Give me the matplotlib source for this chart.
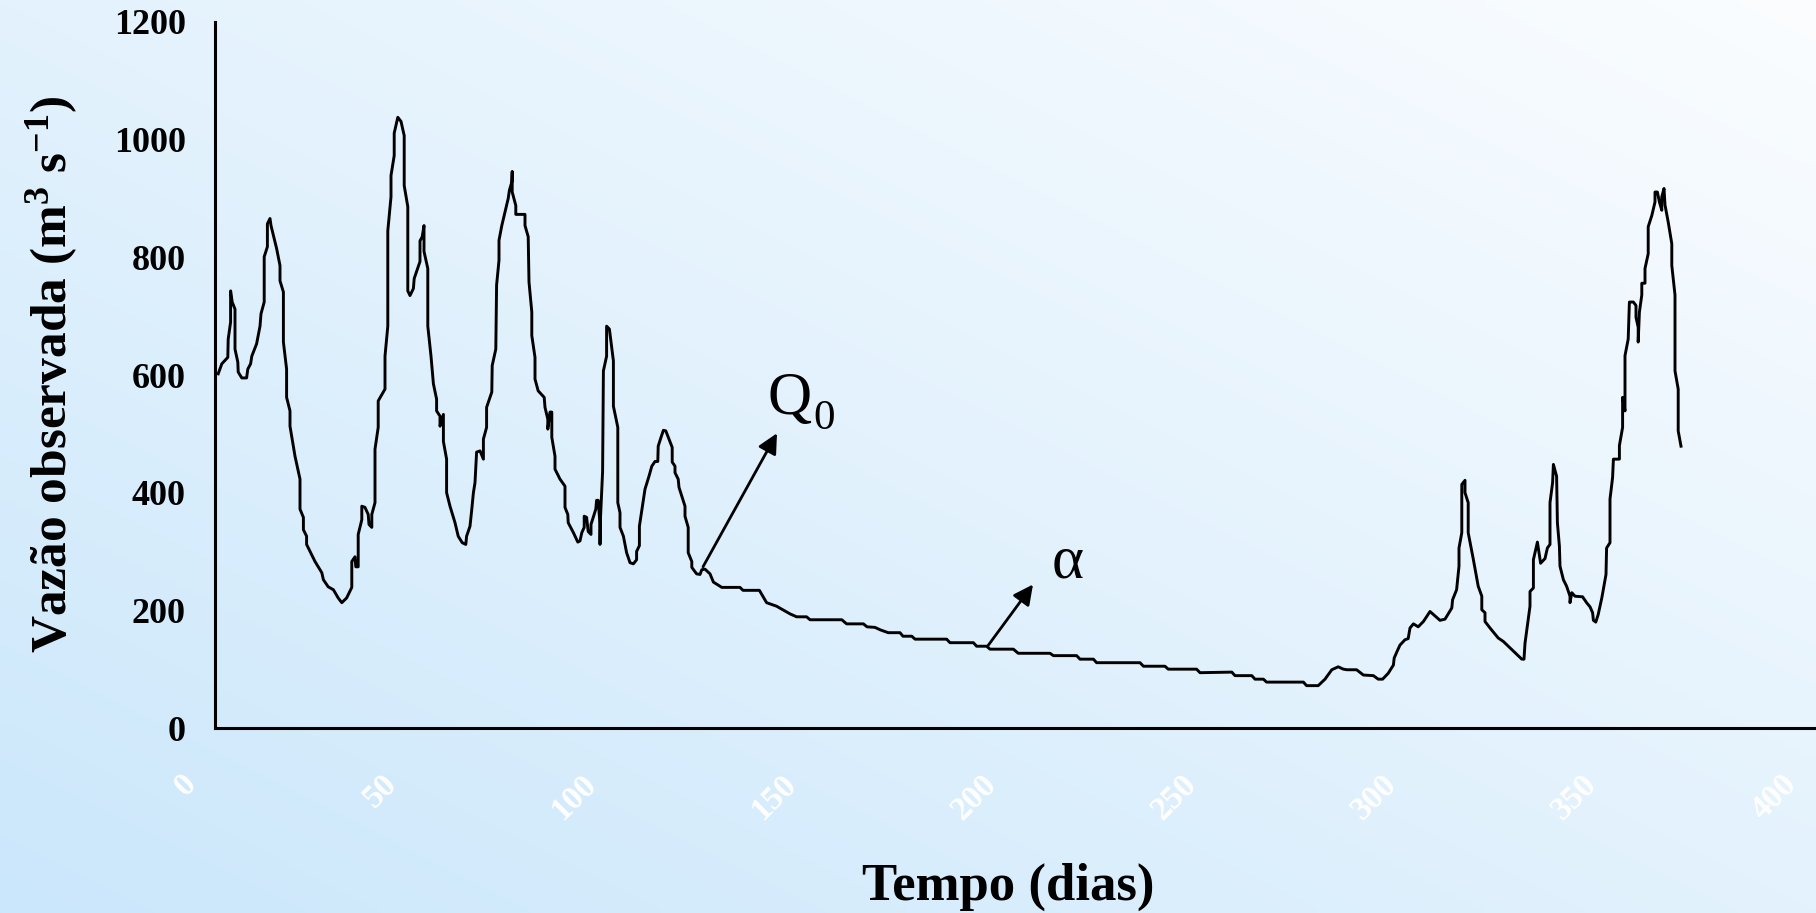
import numpy as np
import matplotlib
matplotlib.use("Agg")
import matplotlib.pyplot as plt
from matplotlib.transforms import ScaledTranslation

plt.rcParams['font.family'] = ['Liberation Serif', 'DejaVu Serif']
plt.rcParams['mathtext.fontset'] = 'custom'
plt.rcParams['mathtext.rm'] = 'Liberation Serif'
plt.rcParams['mathtext.bf'] = 'Liberation Serif:bold'
plt.rcParams['mathtext.it'] = 'Liberation Serif:italic'

# dias e vazões (vértices da linha)
dia = [0.8, 1.7, 3.2, 3.3, 3.9, 3.9, 4.3, 5.0, 5.0, 5.7, 5.8, 6.7, 7.9, 8.2, 8.9, 9.2,
       10.4, 11.25, 11.5, 12.3, 12.3, 13.1, 13.1, 13.75, 14.0, 15.4, 16.25, 16.25, 17.1,
       17.1, 17.9, 17.9, 18.75, 18.75, 20.0, 21.25, 21.25, 22.1, 22.1, 22.9, 22.9, 25.0,
       26.7, 27.1, 28.3, 29.6, 30.8, 31.7, 32.9, 34.2, 34.2, 35.0, 35.2, 35.8, 35.8, 36.7,
       36.7, 37.5, 38.3, 38.5, 39.2, 39.2, 40.0, 40.0, 40.8, 40.8, 42.5, 42.5, 43.2, 43.2,
       44.0, 44.0, 44.8, 44.8, 45.7, 46.5, 47.3, 47.3, 48.2, 48.2, 48.75, 49.6, 49.8,
       51.25, 51.25, 51.8, 52.25, 52.25, 53.2, 53.2, 54.0, 54.6, 55.4, 55.4, 56.25, 56.25,
       57.1, 57.1, 57.9, 57.9, 58.75, 60.0, 60.8, 61.8, 62.7, 62.9, 63.75, 64.2, 64.6, 65.0,
       65.4, 66.25, 67.1, 67.1, 67.9, 67.9, 69.2, 69.3, 70.2, 70.4, 71.0, 71.0, 71.7, 73.3,
       73.6, 74.2, 74.3, 74.3, 75.2, 75.2, 77.5, 77.5, 78.3, 78.5, 79.2, 79.2, 80.0, 80.0,
       80.8, 82.3, 82.5, 83.2, 83.2, 83.75, 84.2, 84.2, 85.0, 85.0, 86.25, 87.5, 87.5, 88.2,
       88.3, 89.6, 90.7, 91.25, 91.7, 92.3, 92.3, 92.9, 93.3, 94.0, 94.0, 95.2, 95.4, 95.8,
       96.25, 96.25, 96.3, 96.9, 97.1, 97.9, 97.9, 98.6, 99.0, 99.6, 99.6, 100.7, 100.7,
       101.25, 101.25, 102.1, 102.9, 103.75, 104.6, 105.4, 105.4, 106.1, 106.1, 107.5,
       108.5, 109.2, 110.0, 110.7, 110.8, 111.5, 112.1, 112.7, 113.5, 114.3, 114.3, 115.0,
       115.0, 115.8, 116.0, 117.5, 117.5, 118.3, 118.3, 119.2, 119.2, 120.4, 121.25, 121.7,
       122.5, 123.75, 124.6, 126.7, 131.25, 132.0, 136.1, 137.9, 140.4, 143.75, 145.4,
       147.9, 148.75, 156.7, 157.9, 162.1, 163.0, 165.0, 166.25, 168.3, 171.25, 172.0,
       174.2, 175.0, 182.9, 183.75, 189.6, 190.4, 192.9, 193.75, 199.6, 200.8, 208.75,
       209.6, 215.4, 216.25, 219.6, 220.4, 231.25, 232.1, 237.5, 238.3, 245.4, 246.25,
       254.2, 255.0, 259.2, 260.0, 262.1, 262.9, 272.1, 272.9, 275.8, 277.5, 279.2, 280.8,
       282.1, 283.0, 285.4, 287.1, 289.6, 290.8, 291.9, 293.3, 294.6, 294.8, 295.7, 296.25,
       297.5, 298.3, 298.75, 299.6, 300.8, 302.1, 303.75, 306.25, 307.5, 309.2, 309.4,
       310.4, 311.0, 311.0, 311.7, 311.7, 312.5, 312.5, 313.3, 313.3, 314.6, 315.8, 316.7,
       316.7, 317.5, 317.5, 318.75, 320.8, 322.1, 326.7, 327.25, 327.5, 328.75, 328.75,
       329.6, 329.6, 330.6, 331.4, 332.5, 333.1, 333.75, 333.75, 334.4, 334.6, 335.4, 335.6,
       336.1, 336.25, 337.1, 337.9, 338.75, 338.75, 339.2, 340.0, 341.9, 342.9, 343.75,
       344.4, 344.6, 345.2, 345.8, 346.7, 347.75, 347.9, 348.75, 348.75, 349.4, 349.6,
       351.1, 351.1, 351.9, 351.9, 352.5, 352.5, 353.3, 353.6, 354.6, 355.25, 355.25, 355.8,
       355.8, 356.1, 356.7, 356.7, 357.5, 357.5, 358.3, 358.3, 359.2, 360.0, 360.0, 360.6,
       361.1, 361.7, 361.7, 362.25, 362.5, 363.3, 364.2, 364.2, 365.0, 365.0, 365.8, 365.8,
       366.5]
vazao = [602, 619, 630, 661, 690, 743, 724, 712, 644, 622, 605, 595, 595, 610, 619, 632,
         653, 683, 704, 724, 801, 818, 857, 866, 854, 815, 786, 760, 741,
         656, 610, 562, 539, 513, 462, 423, 372, 358, 337, 326, 312, 283,
         264, 252, 240, 235, 221, 213, 221, 239, 283, 291, 274, 274, 329, 354,
         377, 375, 363, 346, 341, 363, 383, 474, 511, 556, 576, 632, 683, 845,
         903, 939, 973, 1011, 1038, 1031, 1007, 922, 886, 743, 735, 747, 764,
         793, 828, 835, 854, 810, 781, 683, 632, 585, 559, 539, 530, 513,
         533, 487, 457, 400, 377, 349, 326, 315, 312, 326, 343, 372, 400, 417,
         469, 471, 457, 491, 511, 545, 571, 616, 644, 753, 795, 829, 854, 900,
         914, 928, 946, 911, 888, 873, 873, 854, 835, 758, 707, 667, 630, 593,
         573, 562, 545, 525, 508, 537, 537, 494, 462, 440, 423, 411, 375, 363,
         349, 332, 316, 318, 332, 341, 360, 358, 334, 329, 346, 372, 387, 387,
         346, 312, 346, 436, 607, 632, 683, 678, 656, 624, 547, 511, 383,
         366, 341, 326, 298, 281, 279, 286, 300, 310, 343, 406,
         428, 445, 453, 453, 479, 494, 506, 505, 491, 477, 452, 445,
         434, 423, 409, 377, 360, 341, 298, 283, 273, 262, 261, 269,
         270, 262, 248, 239, 239, 234, 234, 213, 207, 194, 189,
         189, 184, 184, 177, 177, 172, 171, 167, 162, 162, 156,
         156, 151, 151, 145, 145, 139, 139, 134, 134, 127, 127,
         123, 123, 117, 117, 111, 111, 105, 105, 100, 100, 94,
         95, 89, 89, 83, 83, 78, 78, 72, 72, 83, 99, 104,
         100, 99, 99, 90, 89, 83, 83, 93, 107, 119, 133, 141,
         150, 152, 170, 177, 172, 181, 198, 183, 185, 204, 218,
         235, 275, 306, 332, 414, 421, 400, 383, 332, 286, 241, 224,
         201, 196, 181, 170, 153, 147, 117, 117, 144, 207, 232,
         238, 286, 316, 280, 288, 306, 312, 383, 417, 448, 428, 349,
         309, 275, 252, 241, 224, 213, 230, 224, 223, 213, 206,
         196, 183, 180, 193, 221, 261, 306, 315, 389, 426, 457,
         457, 480, 511, 562, 539, 633, 661, 724, 724, 718, 698, 681,
         656, 707, 736, 756, 756, 781, 806, 852, 871, 894, 911, 911,
         894, 880, 903, 917, 889, 860, 823, 786, 736, 607, 576, 505,
         479]

x_ticks = [0, 50, 100, 150, 200, 250, 300, 350, 400]
y_ticks = [0, 200, 400, 600, 800, 1000, 1200]

W, H = 1816, 913
fig = plt.figure(figsize=(W / 100, H / 100), dpi=100)

# fundo em degradê azul claro
bg = fig.add_axes([0, 0, 1, 1], zorder=-10)
u = np.linspace(0, 1, 300)
v = np.linspace(1, 0, 150)
U, V = np.meshgrid(u, v)
t = np.clip(0.5 * (U + V), 0, 1)[..., None]
c0 = np.array([203, 231, 251]) / 255
c1 = np.array([251, 253, 255]) / 255
bg.imshow(c0 + (c1 - c0) * t, aspect='auto', extent=[0, 1, 0, 1], interpolation='bilinear')
bg.axis('off')

ax = fig.add_axes([215 / W, 185 / H, 1600 / W, 706 / H])
ax.set_facecolor('none')
ax.plot(dia, vazao, color='black', lw=2.1)

ax.set_xlim(0, 400)
ax.set_ylim(0, 1200)
ax.spines['top'].set_visible(False)
ax.spines['right'].set_visible(False)
ax.spines['left'].set_linewidth(2.2)
ax.spines['bottom'].set_linewidth(2.2)
ax.tick_params(length=0)
ax.tick_params(axis='y', pad=21)
ax.tick_params(axis='x', pad=29)

ax.set_yticks(y_ticks)
ax.set_yticklabels([str(v) for v in y_ticks], fontsize=26, fontweight='bold')
ax.set_xticks(x_ticks)
ax.set_xticklabels([str(v) for v in x_ticks], fontsize=24, fontweight='bold', color='white',
                   rotation=45, ha='right', va='top', rotation_mode='anchor')
shift = ScaledTranslation(-0.34, 0, fig.dpi_scale_trans)
for lab in ax.get_xticklabels():
    lab.set_transform(lab.get_transform() + shift)

# rótulos dos eixos
fig.text(52 / W, 1 - 374 / H, r'Vazão observada (m$^{\mathbf{3}}$ s$^{\mathbf{-1}}$)',
         rotation=90, ha='center', va='center', fontsize=37, fontweight='bold')
fig.text(1008 / W, 1 - 900 / H, 'Tempo (dias)', ha='center', va='baseline',
         fontsize=38, fontweight='bold')

# setas Q0 e alfa
arrow = dict(arrowstyle='-|>', color='black', lw=2, mutation_scale=30, shrinkA=0, shrinkB=0)
ax.annotate('', xy=(140.5, 501), xytext=(122, 274), arrowprops=arrow)
ax.text(138.25, 533, 'Q', fontsize=44, va='baseline')
ax.annotate('0', xy=(138.25, 533), xytext=(45, -15), textcoords='offset pixels',
            fontsize=31, va='baseline')
ax.annotate('', xy=(204.5, 244), xytext=(193.25, 140), arrowprops=arrow)
ax.text(209.25, 256, 'α', fontsize=44, va='baseline')

fig.savefig('out.png', dpi=100)
